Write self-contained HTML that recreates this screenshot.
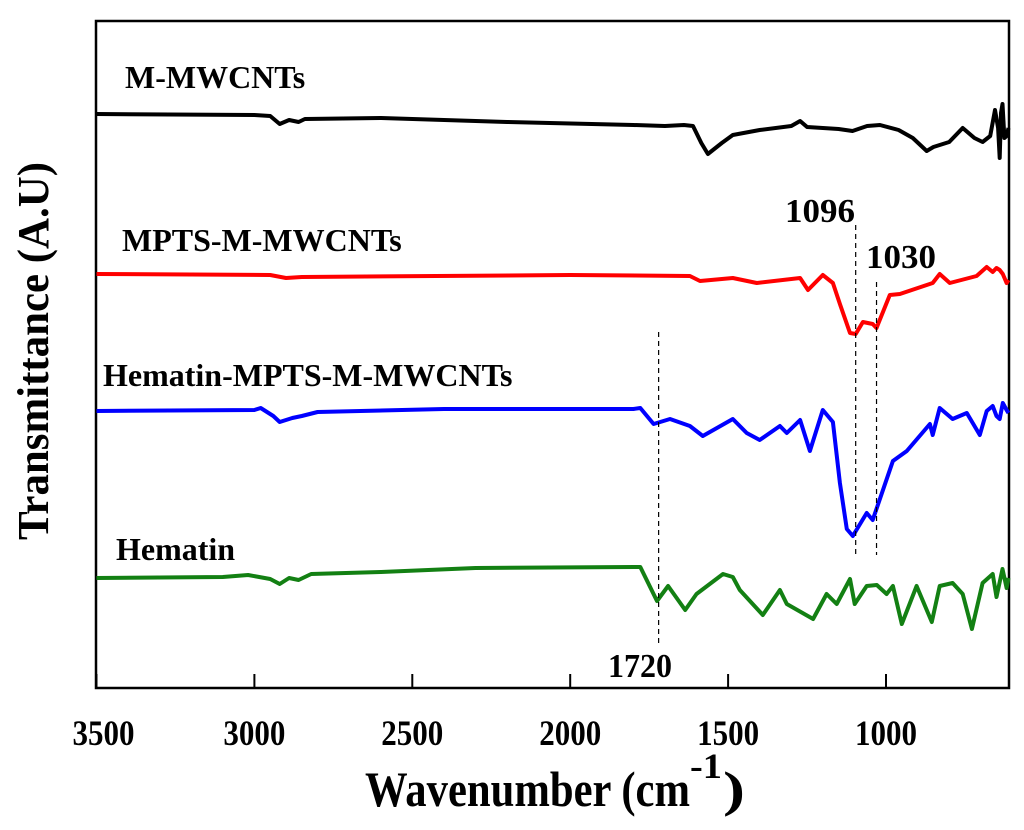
<!DOCTYPE html>
<html><head><meta charset="utf-8"><style>
html,body{margin:0;padding:0;background:#fff;}
svg text{font-family:"Liberation Serif",serif;font-weight:bold;fill:#000;}
</style></head><body>
<svg id="chart" width="1024" height="825" viewBox="0 0 1024 825" xmlns="http://www.w3.org/2000/svg">
<rect x="96" y="21" width="913" height="667" fill="none" stroke="#000" stroke-width="2.5"/>
<g id="ticks"></g>
<g id="series"></g>
<g id="anno"></g>
<text x="125" y="88" font-size="32">M-MWCNTs</text>
<text x="122" y="251" font-size="32">MPTS-M-MWCNTs</text>
<text x="103" y="386" font-size="32">Hematin-MPTS-M-MWCNTs</text>
<text x="116" y="560" font-size="32">Hematin</text>
<text x="365" y="806" font-size="50" textLength="325" lengthAdjust="spacingAndGlyphs">Wavenumber (cm</text>
<text x="690" y="778" font-size="36" textLength="32" lengthAdjust="spacingAndGlyphs">-1</text>
<text x="723" y="806" font-size="50" textLength="22" lengthAdjust="spacingAndGlyphs">)</text>
<text transform="translate(48,540) rotate(-90)" x="0" y="0" font-size="44" textLength="378" lengthAdjust="spacingAndGlyphs">Transmittance (A.U)</text>
</svg>
<script>
const xTicks=[3500,3000,2500,2000,1500,1000];
const blackWn=[3500,3000,2950,2920,2890,2860,2840,2600,2200,1800,1700,1640,1611,1585,1564,1520,1485,1400,1300,1272,1250,1150,1106,1060,1019,960,915,871,850,800,757,720,694,670,655,645,640,636,631,625,618,612];
const blackVal=[574,573,572,564,568,566,569,570,566,563,562,563,562,545,534,545,553,558,562,567,561,559,557,562,563,558,550,537,541,546,560,550,546,552,578,560,530,575,584,550,552,560];
const redWn=[3500,2950,2900,2850,2000,1621,1589,1485,1409,1272,1247,1200,1168,1146,1114,1096,1073,1042,1030,988,956,852,830,798,713,681,662,650,640,630,618,612];
const redVal=[414,413,410,411,413,412,407,410,405,410,398,413,405,384,355,354,366,364,360,393,394,405,414,405,412,421,416,420,418,414,405,408];
const blueWn=[3500,3000,2980,2940,2920,2880,2850,2800,2400,1800,1778,1736,1684,1621,1580,1485,1441,1400,1336,1314,1272,1241,1200,1168,1146,1124,1105,1061,1042,978,934,861,852,830,789,744,703,681,662,650,640,630,618,612];
const blueVal=[277,278,280,272,266,270,272,276,279,279,280,264,269,262,252,269,255,248,262,255,268,237,278,266,205,159,152,175,168,227,237,264,253,280,269,275,253,277,282,272,269,285,278,275];
const greenWn=[3500,3100,3020,2950,2920,2890,2860,2820,2600,2300,1800,1778,1725,1690,1636,1600,1516,1485,1463,1390,1336,1314,1231,1188,1156,1114,1099,1061,1029,998,978,950,903,855,830,789,757,728,694,662,650,631,618,612];
const greenVal=[110,111,113,109,104,110,108,114,116,120,121,121,87,102,78,94,114,111,98,73,98,84,69,94,84,109,84,102,103,94,102,64,102,66,102,105,94,59,105,114,91,119,100,110];
const markers=[1720,1096,1030];
const markerLabels=["1720","1096","1030"];

const NS="http://www.w3.org/2000/svg";
const X0=96.5,PX=0.3158;
function xs(w){return X0+(3500-w)*PX;}
function ys(v){return 688-v;}
function mk(tag,attrs,parent){const e=document.createElementNS(NS,tag);for(const k in attrs)e.setAttribute(k,attrs[k]);parent.appendChild(e);return e;}

const tg=document.getElementById('ticks');
xTicks.forEach(t=>{
  const l=mk('line',{x1:xs(t),x2:xs(t),y1:688,y2:674,stroke:'#000','stroke-width':2},tg);
  
  
  const tx=mk('text',{x:xs(t)-31+(t===3500?7:0),y:745,'font-size':36,textLength:62,lengthAdjust:'spacingAndGlyphs'},tg);
  tx.textContent=String(t);
  
  
});

const sg=document.getElementById('series');
function draw(wn,val,color,name){
  const d=wn.map((w,i)=>(i?'L':'M')+xs(w).toFixed(1)+' '+ys(val[i]).toFixed(1)).join(' ');
  const p=mk('path',{d:d,fill:'none',stroke:color,'stroke-width':4,'stroke-linejoin':'round'},sg);
  
  
}
draw(blackWn,blackVal,'#000','series-m-mwcnts');
draw(redWn,redVal,'#ff0000','series-mpts-m-mwcnts');
draw(blueWn,blueVal,'#0000ff','series-hematin-mpts-m-mwcnts');
draw(greenWn,greenVal,'#138013','series-hematin');

const ag=document.getElementById('anno');
const lineSpans=[[332,645],[225,555],[282,555]];
const labelPos=[[608,677],[785,222],[866,268]];
const labelW=[64,70,70];
markers.forEach((m,i)=>{
  const l=mk('line',{x1:xs(m),x2:xs(m),y1:lineSpans[i][0],y2:lineSpans[i][1],stroke:'#000','stroke-width':1.2,'stroke-dasharray':'5,4'},ag);
  
  
  const t=mk('text',{x:labelPos[i][0],y:labelPos[i][1],'font-size':34,textLength:labelW[i],lengthAdjust:'spacingAndGlyphs'},ag);
  t.textContent=markerLabels[i];
  
  
});
</script>
</body></html>
